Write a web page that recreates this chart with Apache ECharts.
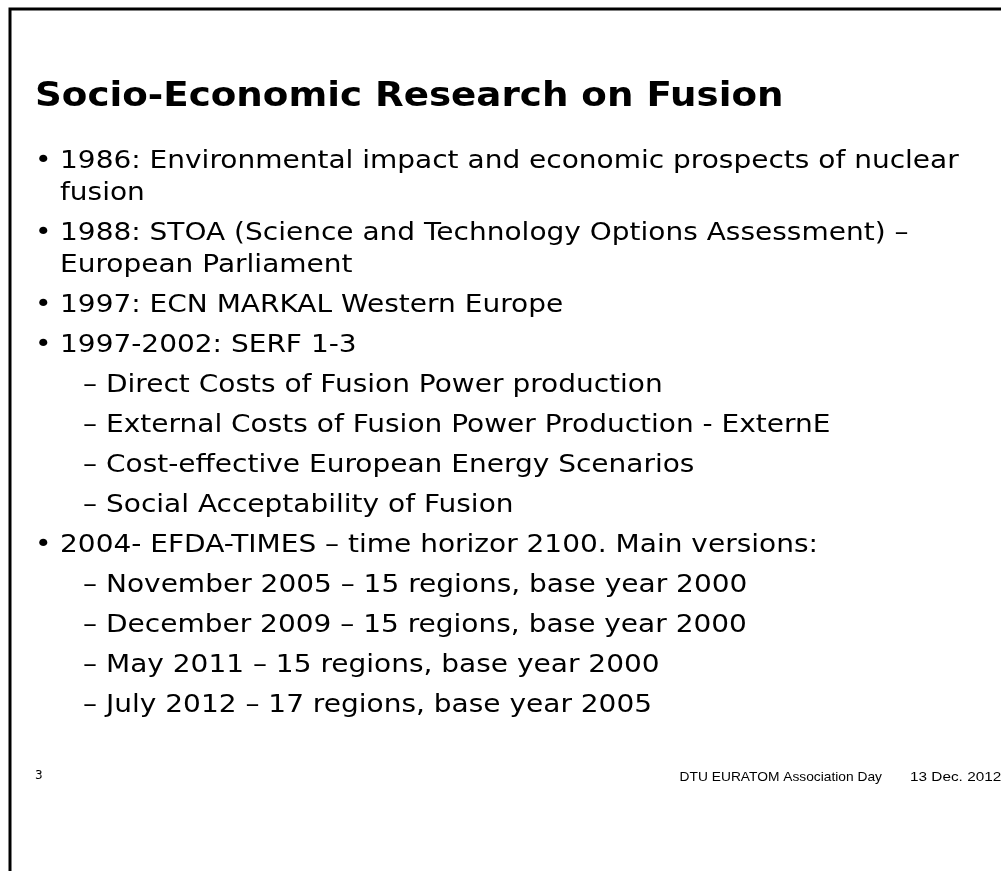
<!DOCTYPE html>
<html>
<head>
<meta charset="utf-8">
<script src="https://cdn.jsdelivr.net/npm/echarts@6/dist/echarts.min.js"></script>
<style>
  html, body { margin: 0; padding: 0; background: #fff; }
  #slide { width: 1001px; height: 871px; }
</style>
</head>
<body>
<div id="slide"></div>
<script>
// slide texts
var slideTitle = 'Socio-Economic Research on Fusion';
// each item: level (0 bullet, 1 dash) and its wrapped lines
var itemLevels = [0, 0, 0, 0, 1, 1, 1, 1, 0, 1, 1, 1, 1];
var itemLines = [
    ['1986: Environmental impact and economic prospects of nuclear', 'fusion'],
    ['1988: STOA (Science and Technology Options Assessment) \u2013', 'European Parliament'],
    ['1997: ECN MARKAL Western Europe'],
    ['1997-2002: SERF 1-3'],
    ['Direct Costs of Fusion Power production'],
    ['External Costs of Fusion Power Production - ExternE'],
    ['Cost-effective European Energy Scenarios'],
    ['Social Acceptability of Fusion'],
    ['2004- EFDA-TIMES \u2013 time horizor 2100. Main versions:'],
    ['November 2005 \u2013 15 regions, base year 2000'],
    ['December 2009 \u2013 15 regions, base year 2000'],
    ['May 2011 \u2013 15 regions, base year 2000'],
    ['July 2012 \u2013 17 regions, base year 2005']
];
var footerPage = '3';
var footerEvent = 'DTU EURATOM Association Day';
var footerDate = '13 Dec. 2012';

initSlide();

function initSlide() {
    var myChart = echarts.init(document.getElementById('slide'));
    // DejaVu Sans stands in for Verdana, stretched a little to its width
    var bodyFont = 'DejaVu Sans';
    var footFont = 'Liberation Sans';
    var stretch = 1.12;
    var elements = [];

    // frame: top and left rules
    elements.push({
        type: 'polyline',
        shape: { points: [[10, 871], [10, 9], [1001, 9]] },
        style: { stroke: '#000', lineWidth: 3, fill: null }
    });

    elements.push({
        type: 'text',
        x: 35, y: 97, scaleX: 1.095,
        style: {
            text: slideTitle,
            fontFamily: bodyFont,
            fontSize: 34,
            fontWeight: 'bold',
            fill: '#000',
            verticalAlign: 'middle'
        }
    });

    var y = 161;
    for (var i = 0; i < itemLines.length; i++) {
        var lvl = itemLevels[i];
        var markX = lvl === 0 ? 35 : 83;
        var textX = lvl === 0 ? 60 : 106;
        elements.push({
            type: 'text',
            x: markX, y: y, scaleX: stretch,
            style: {
                text: lvl === 0 ? '\u2022' : '\u2013',
                fontFamily: bodyFont,
                fontSize: 25,
                fill: '#000',
                verticalAlign: 'middle'
            }
        });
        for (var j = 0; j < itemLines[i].length; j++) {
            elements.push({
                type: 'text',
                x: textX, y: y, scaleX: stretch,
                style: {
                    text: itemLines[i][j],
                    fontFamily: bodyFont,
                    fontSize: 25,
                    fill: '#000',
                    verticalAlign: 'middle'
                }
            });
            y += (j < itemLines[i].length - 1) ? 32 : 40;
        }
    }

    // footer
    elements.push({
        type: 'text',
        x: 35, y: 776,
        style: { text: footerPage, fontFamily: bodyFont, fontSize: 12, fill: '#000', verticalAlign: 'middle' }
    });
    elements.push({
        type: 'text',
        x: 882, y: 777, scaleX: 1.06,
        style: { text: footerEvent, fontFamily: footFont, fontSize: 13, fill: '#000', align: 'right', verticalAlign: 'middle' }
    });
    elements.push({
        type: 'text',
        x: 910, y: 777, scaleX: 1.18,
        style: { text: footerDate, fontFamily: footFont, fontSize: 13, fill: '#000', verticalAlign: 'middle' }
    });

    var option = {
        backgroundColor: '#fff',
        animation: false,
        graphic: { elements: elements }
    };
    myChart.setOption(option);
}
</script>
</body>
</html>
